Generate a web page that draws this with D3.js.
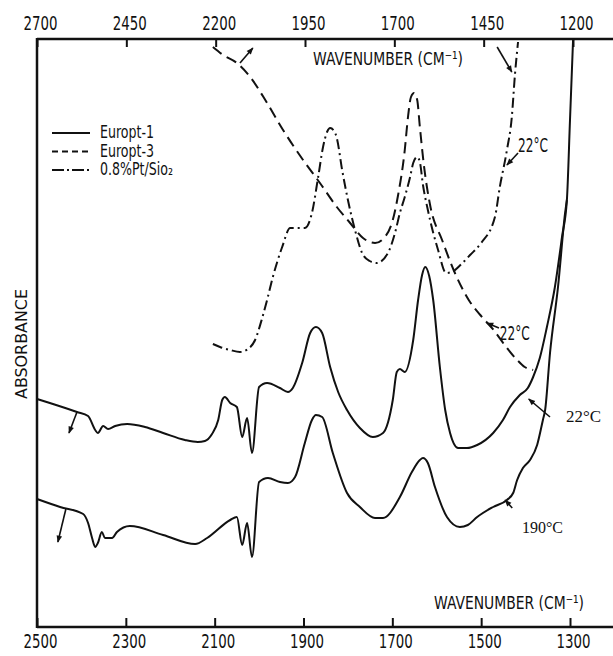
<!DOCTYPE html>
<html>
<head>
<meta charset="utf-8">
<script src="https://cdn.jsdelivr.net/npm/d3@7"></script>
<style>
  body { margin: 0; background: #fff; }
  text { fill: #111; }
  .narrow { font-family: "Liberation Sans Narrow", "DejaVu Sans Condensed", sans-serif; }
  .serif { font-family: "Liberation Serif", "DejaVu Serif", serif; }
</style>
</head>
<body>
<div id="chart"></div>
<script>
// Spectra, [wavenumber (lower axis, cm-1), absorbance (a.u.)]
const europt1At22 = [
  [2500, 2.28], [2410, 2.15], [2385, 2.11], [2369, 1.97], [2363, 1.94], [2351, 2.01],
  [2340, 1.98], [2324, 2.01], [2297, 2.03], [2257, 2.00], [2216, 1.94], [2167, 1.87],
  [2138, 1.85], [2122, 1.86], [2106, 1.93], [2092, 2.07], [2083, 2.27], [2077, 2.30],
  [2065, 2.24], [2050, 2.20], [2038, 1.90], [2027, 2.09], [2016, 1.74], [2000, 2.40],
  [1982, 2.44], [1953, 2.39], [1935, 2.35], [1924, 2.39], [1903, 2.64], [1885, 2.94],
  [1872, 3.00], [1858, 2.94], [1840, 2.60], [1822, 2.35], [1802, 2.17], [1773, 1.99],
  [1744, 1.90], [1721, 1.94], [1699, 2.27], [1690, 2.55], [1683, 2.58], [1672, 2.55],
  [1653, 2.87], [1642, 3.27], [1633, 3.52], [1626, 3.60], [1617, 3.51], [1608, 3.27],
  [1593, 2.60], [1581, 2.17], [1570, 1.94], [1552, 1.79], [1532, 1.79], [1509, 1.82],
  [1473, 1.94], [1451, 2.07], [1435, 2.20], [1413, 2.32], [1395, 2.39], [1383, 2.50],
  [1368, 2.69], [1352, 3.00], [1334, 3.40], [1318, 3.90], [1307, 4.27], [1300, 5.07],
  [1293, 5.88]
];

const europt1At190 = [
  [2500, 1.28], [2448, 1.20], [2396, 1.13], [2385, 1.04], [2376, 0.89], [2369, 0.80],
  [2363, 0.84], [2354, 0.95], [2347, 0.89], [2331, 0.89], [2320, 0.95], [2291, 1.01],
  [2216, 0.92], [2144, 0.83], [2117, 0.89], [2065, 1.07], [2050, 1.10], [2038, 0.82],
  [2027, 1.04], [2016, 0.70], [2000, 1.45], [1980, 1.49], [1953, 1.45], [1935, 1.44],
  [1919, 1.50], [1897, 1.84], [1881, 2.07], [1872, 2.12], [1858, 2.10], [1834, 1.74],
  [1802, 1.34], [1773, 1.20], [1739, 1.09], [1721, 1.09], [1683, 1.30], [1656, 1.55],
  [1638, 1.67], [1631, 1.69], [1620, 1.64], [1604, 1.40], [1577, 1.10], [1548, 1.00],
  [1530, 1.02], [1509, 1.10], [1473, 1.20], [1442, 1.27], [1428, 1.34], [1419, 1.47],
  [1406, 1.59], [1390, 1.67], [1374, 1.82], [1361, 2.07], [1356, 2.17], [1345, 2.74],
  [1327, 3.40], [1311, 4.14], [1307, 4.27]
];

const europt3At22 = [
  [2104, 5.80], [2081, 5.72], [2050, 5.64], [2020, 5.50], [1982, 5.24], [1946, 4.97],
  [1901, 4.67], [1863, 4.44], [1825, 4.20], [1795, 4.04], [1766, 3.89], [1739, 3.84],
  [1717, 3.90], [1699, 4.07], [1687, 4.32], [1672, 4.77], [1665, 5.09], [1658, 5.30],
  [1651, 5.34], [1644, 5.27], [1638, 5.00], [1629, 4.62], [1615, 4.22], [1588, 3.87],
  [1562, 3.57], [1528, 3.27], [1502, 3.12], [1472, 2.97], [1442, 2.79], [1419, 2.67],
  [1402, 2.60], [1383, 2.57]
];

const ptSilicaAt22 = [
  [2104, 2.83], [2088, 2.80], [2065, 2.77], [2043, 2.75], [2025, 2.78], [2009, 2.87],
  [1993, 3.09], [1982, 3.27], [1969, 3.50], [1948, 3.80], [1930, 3.99], [1897, 3.99],
  [1881, 4.14], [1867, 4.50], [1856, 4.80], [1847, 4.95], [1840, 4.99], [1831, 4.96],
  [1825, 4.89], [1813, 4.57], [1800, 4.27], [1784, 3.97], [1768, 3.74], [1751, 3.66],
  [1735, 3.64], [1710, 3.74], [1694, 3.94], [1683, 4.14], [1672, 4.30], [1660, 4.50],
  [1653, 4.64], [1644, 4.70], [1638, 4.65], [1631, 4.42], [1620, 4.17], [1597, 3.77],
  [1579, 3.54], [1566, 3.55], [1549, 3.61], [1525, 3.72], [1500, 3.84], [1469, 4.10],
  [1458, 4.40], [1442, 4.77], [1431, 5.10], [1424, 5.52], [1417, 5.85]
];

const bottomTicks = [2500, 2300, 2100, 1900, 1700, 1500, 1300];
const topTicks = [2700, 2450, 2200, 1950, 1700, 1450, 1200];

const legendNames = ["Europt-1", "Europt-3", "0.8%Pt/Sio₂"];

// arrows: [from, to] in [wavenumber, absorbance]
const arrows = [
  [[2410, 2.15], [2428, 1.94]],
  [[2435, 1.18], [2453, 0.85]],
  [[2043, 5.64], [2014, 5.79]],
  [[1464, 5.80], [1431, 5.55]],
  [[1417, 4.74], [1442, 4.62]],
  [[1460, 2.99], [1487, 3.04]],
  [[1345, 2.10], [1393, 2.28]],
  [[1430, 1.19], [1446, 1.27]]
];

// temperature notes: [text, wavenumber, absorbance, font class, width]
const notes = [
  ["22°C", 1417, 4.75, "narrow", 30],
  ["22°C", 1458, 2.87, "narrow", 30],
  ["22°C", 1309, 2.05, "serif", 35],
  ["190°C", 1408, 0.94, "serif", 41]
];

// Set up dimensions
const WIDTH = 613;
const HEIGHT = 656;
const LEFT = 37, RIGHT_EDGE = 613, TOP = 39, BOTTOM = 627;

const x = d3.scaleLinear().domain([2500, 1300]).range([LEFT, 570]);
const xTop = d3.scaleLinear().domain([2700, 1200]).range([LEFT, 573]);
const y = d3.scaleLinear().domain([0, 5.88]).range([BOTTOM, TOP]);

const svg = d3.select("#chart")
  .append("svg")
  .attr("width", WIDTH)
  .attr("height", HEIGHT);

svg.append("rect").attr("width", WIDTH).attr("height", HEIGHT).attr("fill", "#fff");

// arrow head
svg.append("defs")
  .append("marker")
  .attr("id", "head")
  .attr("viewBox", "0 0 10 10")
  .attr("refX", 9).attr("refY", 5)
  .attr("markerWidth", 8).attr("markerHeight", 7)
  .attr("markerUnits", "userSpaceOnUse")
  .attr("orient", "auto")
  .append("path")
  .attr("d", "M0,1 L10,5 L0,9 Z")
  .attr("fill", "#111");

// Axes
const bottomAxis = svg.append("g")
  .attr("transform", `translate(0,${BOTTOM})`)
  .call(d3.axisBottom(x).tickValues(bottomTicks).tickSizeInner(-9).tickSizeOuter(0).tickPadding(8).tickFormat(d3.format("d")));

const topAxis = svg.append("g")
  .attr("transform", `translate(0,${TOP})`)
  .call(d3.axisTop(xTop).tickValues(topTicks).tickSizeInner(-8).tickSizeOuter(0).tickPadding(9).tickFormat(d3.format("d")));

[bottomAxis, topAxis].forEach((g) => {
  g.select(".domain").remove();
  g.selectAll(".tick line").attr("stroke", "#111").attr("stroke-width", 2);
  g.selectAll(".tick text")
    .attr("class", "narrow")
    .attr("font-size", 19)
    .attr("dx", 3)
    .attr("textLength", 34)
    .attr("lengthAdjust", "spacingAndGlyphs")
    .attr("fill", "#111");
});

svg.append("line")
  .attr("x1", LEFT).attr("x2", RIGHT_EDGE).attr("y1", BOTTOM).attr("y2", BOTTOM)
  .attr("stroke", "#111").attr("stroke-width", 2.5);
svg.append("line")
  .attr("x1", LEFT).attr("x2", RIGHT_EDGE).attr("y1", TOP).attr("y2", TOP)
  .attr("stroke", "#111").attr("stroke-width", 2.5);
svg.append("line")
  .attr("x1", LEFT).attr("x2", LEFT).attr("y1", TOP - 1).attr("y2", BOTTOM + 1)
  .attr("stroke", "#111").attr("stroke-width", 2.5);

// Axis titles
const titles = [[313, 65], [434, 609]];
svg.selectAll("text.title")
  .data(titles)
  .enter()
  .append("text")
  .attr("class", "title narrow")
  .attr("x", (d) => d[0])
  .attr("y", (d) => d[1])
  .attr("font-size", 18)
  .attr("textLength", 150)
  .attr("lengthAdjust", "spacingAndGlyphs")
  .text("WAVENUMBER (CM⁻¹)");

svg.append("text")
  .attr("transform", "translate(27,344) rotate(-90)")
  .attr("text-anchor", "middle")
  .attr("font-family", "DejaVu Sans, sans-serif")
  .attr("font-size", 15)
  .attr("textLength", 110)
  .attr("lengthAdjust", "spacingAndGlyphs")
  .text("ABSORBANCE");

// Spectra
const line = d3.line()
  .x((d) => x(d[0]))
  .y((d) => y(d[1]))
  .curve(d3.curveMonotoneX);

const series = [
  { data: europt1At22, dash: null },
  { data: europt1At190, dash: null },
  { data: europt3At22, dash: "11,6" },
  { data: ptSilicaAt22, dash: "10,4,2,4" }
];

svg.selectAll("path.spectrum")
  .data(series)
  .enter()
  .append("path")
  .attr("class", "spectrum")
  .attr("d", (d) => line(d.data))
  .attr("fill", "none")
  .attr("stroke", "#111")
  .attr("stroke-width", 2)
  .attr("stroke-dasharray", (d) => d.dash);

// Annotation arrows
svg.selectAll("line.arrow")
  .data(arrows)
  .enter()
  .append("line")
  .attr("class", "arrow")
  .attr("x1", (d) => x(d[0][0]))
  .attr("y1", (d) => y(d[0][1]))
  .attr("x2", (d) => x(d[1][0]))
  .attr("y2", (d) => y(d[1][1]))
  .attr("stroke", "#111")
  .attr("stroke-width", 1.6)
  .attr("marker-end", "url(#head)");

svg.selectAll("text.note")
  .data(notes)
  .enter()
  .append("text")
  .attr("class", (d) => "note " + d[3])
  .attr("x", (d) => x(d[1]))
  .attr("y", (d) => y(d[2]))
  .attr("font-size", (d) => (d[3] === "serif" ? 17 : 19))
  .attr("textLength", (d) => d[4])
  .attr("lengthAdjust", "spacingAndGlyphs")
  .text((d) => d[0]);

// Legend
const legend = svg.append("g").attr("transform", "translate(52,133)");
const legendDash = [null, "6,4", "12,3,2,3"];

const legendItems = legend.selectAll("g")
  .data(legendNames)
  .enter()
  .append("g")
  .attr("transform", (d, i) => `translate(0,${i * 18.5})`);

legendItems.append("line")
  .attr("x1", 0).attr("x2", 38)
  .attr("stroke", "#111")
  .attr("stroke-width", 2)
  .attr("stroke-dasharray", (d, i) => legendDash[i]);

// same narrowing for every legend label
legendItems.append("text")
  .attr("class", "narrow")
  .attr("x", 48)
  .attr("y", 5)
  .attr("font-size", 17)
  .text((d) => d)
  .each(function () {
    const w = this.getComputedTextLength();
    d3.select(this)
      .attr("textLength", Math.round(w * 0.82))
      .attr("lengthAdjust", "spacingAndGlyphs");
  });
</script>
</body>
</html>
